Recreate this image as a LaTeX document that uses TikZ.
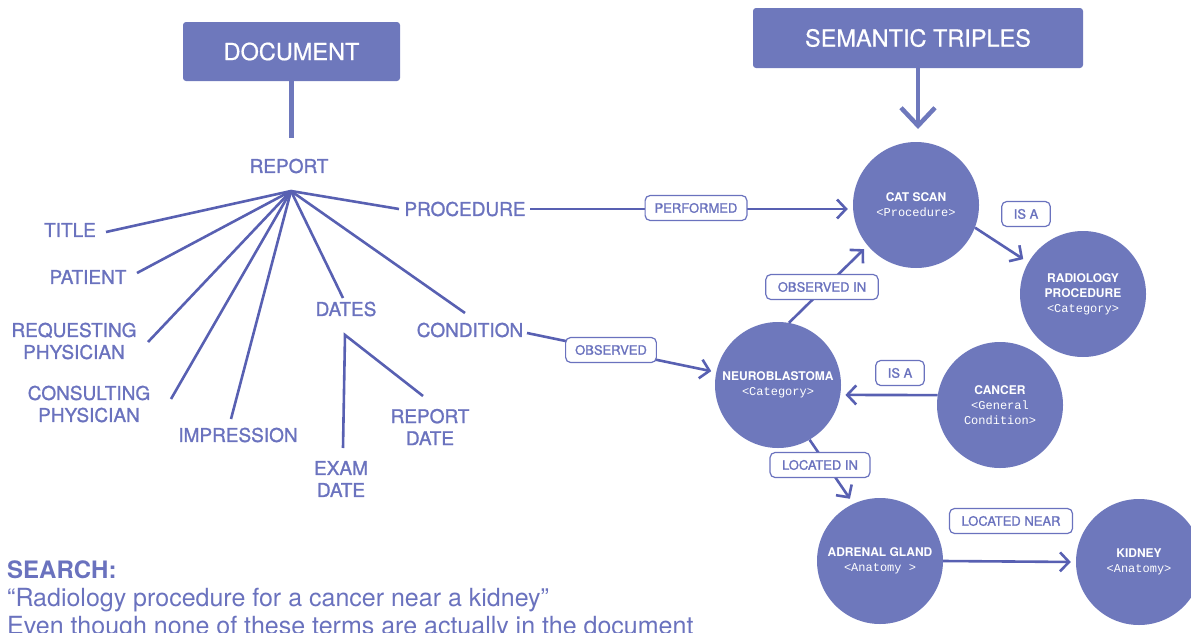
\documentclass[tikz,border=0pt]{standalone}
\usepackage{fontspec}
\setmainfont{TeX Gyre Heros}
\setmonofont{Liberation Mono}
\newfontfamily\medfont[FakeBold=1.2]{TeX Gyre Heros}
\newfontfamily\headfont[FakeBold=0.6]{TeX Gyre Heros}
\usetikzlibrary{arrows.meta}
\definecolor{boxfill}{RGB}{110,120,188}
\definecolor{linec}{RGB}{88,96,178}
\definecolor{txtc}{RGB}{106,114,190}
\newcommand\monotxt{\ttfamily\mdseries}
\begin{document}
\begin{tikzpicture}[x=1pt,y=-1pt,
  head/.style={fill=boxfill,rounded corners=3pt,text=white,font=\headfont\fontsize{23.5}{28}\selectfont,inner sep=0pt},
  lbl/.style={text=txtc,font=\medfont\fontsize{19}{22}\selectfont,align=center,inner sep=0pt},
  conn/.style={draw=linec,line width=2.6pt},
  arr/.style={conn,-{Straight Barb[length=9pt,width=19pt]}},
  ent/.style={circle,fill=boxfill,minimum size=126pt,inner sep=0pt,text=white,align=center,font=\fontsize{12}{15}\selectfont\bfseries},
  rel/.style={draw=txtc,line width=1.2pt,fill=white,rounded corners=5pt,text=txtc,font=\medfont\fontsize{13}{15}\selectfont,inner xsep=12pt,inner ysep=0pt,minimum height=25pt},
  srch/.style={anchor=base west,text=txtc,inner sep=0pt},
]
\useasboundingbox (0,0) rectangle (1191,632);

% headers
\node[head,minimum width=217pt,minimum height=59pt] (doc) at (291.5,51.5) {DOCUMENT};
\node[head,minimum width=330pt,minimum height=60pt] (sem) at (918,38) {SEMANTIC TRIPLES};
\coordinate (docend) at (291.5,138);
\coordinate (semend) at (918,129);
\draw[boxfill,line width=4.5pt] (doc.south) -- (docend);
\draw[boxfill,line width=4.5pt,-{Straight Barb[length=18pt,width=34pt]}] (sem.south) -- (semend);

% document tree
\node[lbl] (report) at (289,166) {REPORT};
\coordinate (hub) at (291,191);
\node[lbl] (title) at (70,230) {TITLE};
\coordinate (titleE) at (106,232);
\node[lbl] (patient) at (88,277) {PATIENT};
\coordinate (patientE) at (137,273);
\node[lbl] (req) at (74,341) {REQUESTING\\PHYSICIAN};
\coordinate (reqE) at (148,342);
\node[lbl] (cons) at (89,404) {CONSULTING\\PHYSICIAN};
\coordinate (consE) at (171,399);
\node[lbl] (imp) at (238,435) {IMPRESSION};
\coordinate (impE) at (231,419);
\node[lbl] (dates) at (346,309) {DATES};
\coordinate (datesE) at (343,298);
\node[lbl] (cond) at (470,330) {CONDITION};
\coordinate (condE) at (465,313);
\node[lbl] (proc) at (465,209) {PROCEDURE};
\coordinate (procE) at (399,209);
\foreach \e in {titleE,patientE,reqE,consE,impE,datesE,condE,procE}
  \draw[conn] (hub) -- (\e);

\coordinate (dhub) at (345,335);
\coordinate (examE) at (343,448);
\coordinate (rdateE) at (423,396);
\node[lbl] (exam) at (341,479) {EXAM\\DATE};
\node[lbl] (rdate) at (430,427) {REPORT\\DATE};
\draw[conn] (examE) -- (dhub) -- (rdateE);

% semantic triples
\node[ent] (cat) at (916,205) {CAT SCAN\\{\monotxt <Procedure>}};
\node[ent] (rad) at (1083,294) {RADIOLOGY\\PROCEDURE\\{\monotxt <Category>}};
\node[ent] (neuro) at (778,385) {NEUROBLASTOMA\\{\monotxt <Category>}};
\node[ent] (cancer) at (1000,405) {CANCER\\{\monotxt <General}\\{\monotxt Condition>}};
\node[ent] (adrenal) at (880,561) {ADRENAL GLAND\\{\monotxt <Anatomy >}};
\node[ent] (kidney) at (1139,562) {KIDNEY\\{\monotxt <Anatomy>}};

\coordinate (procS) at (530,209);
\coordinate (condS) at (527,333);
\draw[arr,shorten >=5pt] (procS) -- (procS -| cat.west);
\node[rel,inner xsep=9.5pt] (performed) at (696,208) {PERFORMED};

\draw[arr,shorten >=5pt] (condS) -- (neuro);
\node[rel,inner xsep=9.5pt] (observed) at (611,350) {OBSERVED};

\draw[arr,shorten >=5pt] (neuro.80) -- (cat.220);
\node[rel] (observedin) at (822,287) {OBSERVED IN};

\draw[arr,shorten >=6pt] (cat.-21) -- (rad.150);
\node[rel] (isa1) at (1026,214) {IS A};

\draw[arr,shorten >=5pt] (cancer.171) -- (neuro.-9);
\node[rel] (isa2) at (900,373) {IS A};

\draw[arr,shorten >=6pt] (neuro.-60) -- (adrenal.115);
\node[rel] (locin) at (820,465) {LOCATED IN};

\draw[arr,shorten >=5pt] (adrenal.east) -- (kidney.west);
\node[rel] (locnear) at (1011,521) {LOCATED NEAR};

% search text
\node[srch,font=\fontsize{24}{28}\selectfont\bfseries] (search) at (7,578) {SEARCH:};
\node[srch,font=\fontsize{25}{28}\selectfont] (query) at (7,606) {“Radiology procedure for a cancer near a kidney”};
\node[srch,font=\fontsize{25}{28}\selectfont] (note) at (7,634) {Even though none of these terms are actually in the document};
\end{tikzpicture}
\end{document}
